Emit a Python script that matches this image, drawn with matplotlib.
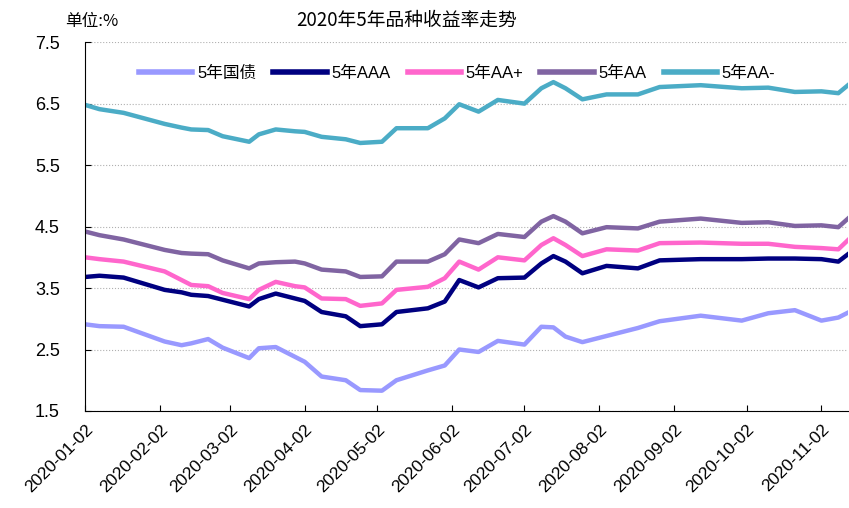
import pandas as pd
import matplotlib
matplotlib.use("Agg")
import matplotlib.pyplot as plt

plt.rcParams['font.family'] = ['Liberation Sans', 'Noto Sans CJK SC', 'DejaVu Sans']

# sample dates
dates = ["2020-01-02", "2020-01-08", "2020-01-18", "2020-02-04", "2020-02-11",
         "2020-02-15", "2020-02-22", "2020-02-28", "2020-03-10", "2020-03-14",
         "2020-03-21", "2020-03-29", "2020-04-02", "2020-04-09", "2020-04-19",
         "2020-04-25", "2020-05-04", "2020-05-10", "2020-05-23", "2020-05-30",
         "2020-06-05", "2020-06-13", "2020-06-21", "2020-07-02", "2020-07-09",
         "2020-07-14", "2020-07-19", "2020-07-26", "2020-08-05", "2020-08-18",
         "2020-08-27", "2020-09-13", "2020-09-30", "2020-10-11", "2020-10-22",
         "2020-11-02", "2020-11-09", "2020-11-13"]

gov = [2.91, 2.88, 2.87, 2.63, 2.57, 2.60, 2.67, 2.53, 2.36, 2.52,
       2.54, 2.38, 2.30, 2.06, 2.00, 1.84, 1.83, 2.00, 2.16, 2.24,
       2.50, 2.46, 2.64, 2.58, 2.87, 2.86, 2.71, 2.62, 2.72, 2.85,
       2.96, 3.05, 2.97, 3.09, 3.14, 2.97, 3.02, 3.10]
aaa = [3.68, 3.70, 3.67, 3.47, 3.43, 3.39, 3.37, 3.31, 3.20, 3.32,
       3.41, 3.33, 3.29, 3.11, 3.04, 2.88, 2.91, 3.11, 3.17, 3.28,
       3.63, 3.51, 3.66, 3.67, 3.90, 4.02, 3.93, 3.74, 3.86, 3.82,
       3.95, 3.97, 3.97, 3.98, 3.98, 3.97, 3.93, 4.05]
aa_plus = [4.00, 3.97, 3.93, 3.77, 3.63, 3.55, 3.53, 3.42, 3.32, 3.47,
           3.60, 3.53, 3.51, 3.33, 3.32, 3.21, 3.25, 3.47, 3.52, 3.66,
           3.93, 3.80, 4.00, 3.95, 4.20, 4.31, 4.20, 4.02, 4.13, 4.11,
           4.23, 4.24, 4.22, 4.22, 4.17, 4.15, 4.13, 4.28]
aa = [4.42, 4.36, 4.29, 4.12, 4.07, 4.06, 4.05, 3.95, 3.82, 3.90,
      3.92, 3.93, 3.90, 3.80, 3.77, 3.68, 3.69, 3.93, 3.93, 4.05,
      4.29, 4.23, 4.38, 4.33, 4.58, 4.67, 4.58, 4.39, 4.49, 4.47,
      4.58, 4.63, 4.56, 4.57, 4.51, 4.52, 4.49, 4.63]
aa_minus = [6.48, 6.41, 6.35, 6.17, 6.11, 6.08, 6.07, 5.97, 5.88, 6.00,
            6.08, 6.05, 6.04, 5.96, 5.92, 5.86, 5.88, 6.10, 6.10, 6.26,
            6.49, 6.37, 6.56, 6.50, 6.75, 6.85, 6.75, 6.57, 6.65, 6.65,
            6.77, 6.80, 6.75, 6.76, 6.69, 6.70, 6.67, 6.80]

labels = ["5年国债", "5年AAA", "5年AA+", "5年AA", "5年AA-"]
colors = ["#9999FF", "#000080", "#FF66CC", "#8064A2", "#4BACC6"]
tick_dates = ["2020-01-02", "2020-02-02", "2020-03-02", "2020-04-02", "2020-05-02",
              "2020-06-02", "2020-07-02", "2020-08-02", "2020-09-02", "2020-10-02",
              "2020-11-02"]
yticks = [1.5, 2.5, 3.5, 4.5, 5.5, 6.5, 7.5]

x = pd.to_datetime(dates)
fig = plt.figure(figsize=(8.49, 5.08), dpi=100)
ax = fig.add_axes([0.1001, 0.191, 0.8987, 0.726])

for series, lab, col in zip([gov, aaa, aa_plus, aa, aa_minus], labels, colors):
    ax.plot(x, series, color=col, lw=3.2, label=lab, solid_joinstyle='round')

ax.set_xlim(x[0], x[-1])
ax.set_ylim(1.5, 7.5)
ax.set_yticks(yticks)
ax.set_yticklabels([f"{v:.1f}" for v in yticks], fontsize=13)
tk = pd.to_datetime(tick_dates)
ax.set_xticks(tk)
ax.set_xticklabels([d.strftime("%Y-%m-%d") for d in tk], rotation=45,
                   ha='right', rotation_mode='anchor', fontsize=12.5)
ax.tick_params(axis='both', direction='in', length=4, color='black')
ax.tick_params(axis='x', pad=8)
ax.tick_params(axis='y', pad=18)
ax.grid(axis='y', ls=':', color='#b0b0b0', lw=0.8)
ax.set_axisbelow(True)
for s in ['top', 'right']:
    ax.spines[s].set_visible(False)

leg = ax.legend(loc='center', bbox_to_anchor=(0.488, 0.916), ncol=5, frameon=False,
                fontsize=12, handlelength=3.2, handletextpad=0.3, columnspacing=1.0)
for h in leg.get_lines():
    h.set_linewidth(4)

fig.text(0.077, 0.957, "单位:%", fontsize=12, ha='left', va='center',
         family=['Noto Sans CJK SC', 'DejaVu Sans'])
fig.text(0.479, 0.96, "2020年5年品种收益率走势", fontsize=13.5, ha='center', va='center',
         family=['Noto Sans CJK SC', 'DejaVu Sans'])

fig.savefig("out.png", dpi=100)
